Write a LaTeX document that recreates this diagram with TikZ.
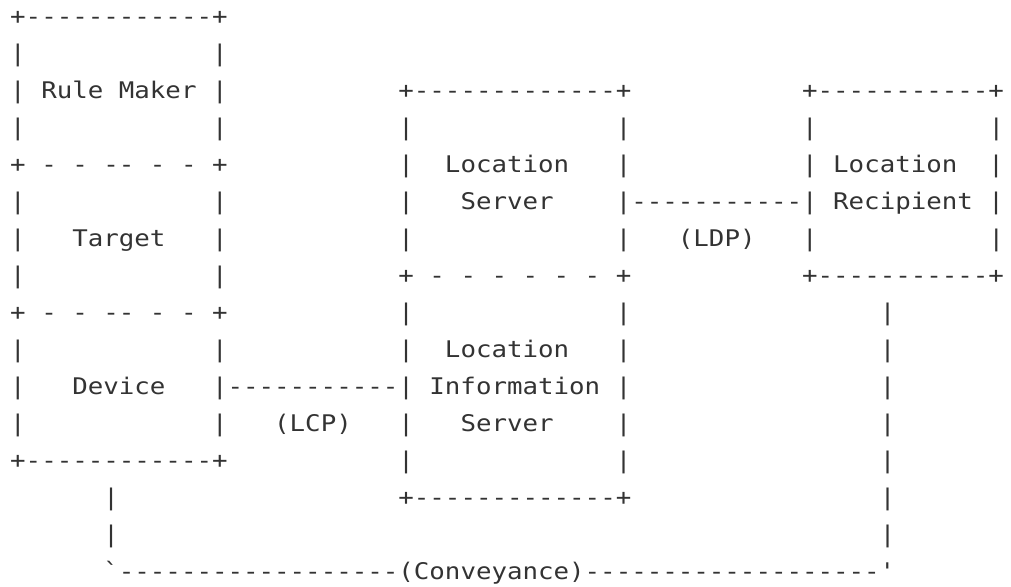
\documentclass[tikz,border=0pt]{standalone}
\usepackage{fontspec}
\newfontfamily\asciifont{DejaVu Sans Mono}[FakeStretch=1.126,Ligatures=TeXOff]
\definecolor{ink}{HTML}{333333}
% n blank character cells of the current monospaced font
\newcommand\blanks[1]{\kern#1\fontcharwd\font`x\relax}
\tikzset{
  row/.style={anchor=base west,inner sep=0pt,outer sep=0pt,text=ink,
    font=\asciifont\fontsize{17.18pt}{20pt}\selectfont},
}
\begin{document}
\begin{tikzpicture}[x=0.75pt,y=-0.75pt]
\fill[white] (0,0) rectangle (1011,586);
\useasboundingbox (0,0) rectangle (1011,586);
\node[row] (r0)  at (10.2,{24.2+37*0})  {+------------+};
\node[row] (r1)  at (10.2,{24.2+37*1})  {|\blanks{12}|};
\node[row] (r2)  at (10.2,{24.2+37*2})  {|\blanks{1}Rule\blanks{1}Maker\blanks{1}|\blanks{11}+-------------+\blanks{11}+-----------+};
\node[row] (r3)  at (10.2,{24.2+37*3})  {|\blanks{12}|\blanks{11}|\blanks{13}|\blanks{11}|\blanks{11}|};
\node[row] (r4)  at (10.2,{24.2+37*4})  {+\blanks{1}-\blanks{1}-\blanks{1}--\blanks{1}-\blanks{1}-\blanks{1}+\blanks{11}|\blanks{2}Location\blanks{3}|\blanks{11}|\blanks{1}Location\blanks{2}|};
\node[row] (r5)  at (10.2,{24.2+37*5})  {|\blanks{12}|\blanks{11}|\blanks{3}Server\blanks{4}|-----------|\blanks{1}Recipient\blanks{1}|};
\node[row] (r6)  at (10.2,{24.2+37*6})  {|\blanks{3}Target\blanks{3}|\blanks{11}|\blanks{13}|\blanks{3}(LDP)\blanks{3}|\blanks{11}|};
\node[row] (r7)  at (10.2,{24.2+37*7})  {|\blanks{12}|\blanks{11}+\blanks{1}-\blanks{1}-\blanks{1}-\blanks{1}-\blanks{1}-\blanks{1}-\blanks{1}+\blanks{11}+-----------+};
\node[row] (r8)  at (10.2,{24.2+37*8})  {+\blanks{1}-\blanks{1}-\blanks{1}--\blanks{1}-\blanks{1}-\blanks{1}+\blanks{11}|\blanks{13}|\blanks{16}|};
\node[row] (r9)  at (10.2,{24.2+37*9})  {|\blanks{12}|\blanks{11}|\blanks{2}Location\blanks{3}|\blanks{16}|};
\node[row] (r10) at (10.2,{24.2+37*10}) {|\blanks{3}Device\blanks{3}|-----------|\blanks{1}Information\blanks{1}|\blanks{16}|};
\node[row] (r11) at (10.2,{24.2+37*11}) {|\blanks{12}|\blanks{3}(LCP)\blanks{3}|\blanks{3}Server\blanks{4}|\blanks{16}|};
\node[row] (r12) at (10.2,{24.2+37*12}) {+------------+\blanks{11}|\blanks{13}|\blanks{16}|};
\node[row] (r13) at (10.2,{24.2+37*13}) {\blanks{6}|\blanks{18}+-------------+\blanks{16}|};
\node[row] (r14) at (10.2,{24.2+37*14}) {\blanks{6}|\blanks{49}|};
\node[row] (r15) at (10.2,{24.2+37*15}) {\blanks{6}`------------------(Conveyance)-------------------'};
\end{tikzpicture}
\end{document}
